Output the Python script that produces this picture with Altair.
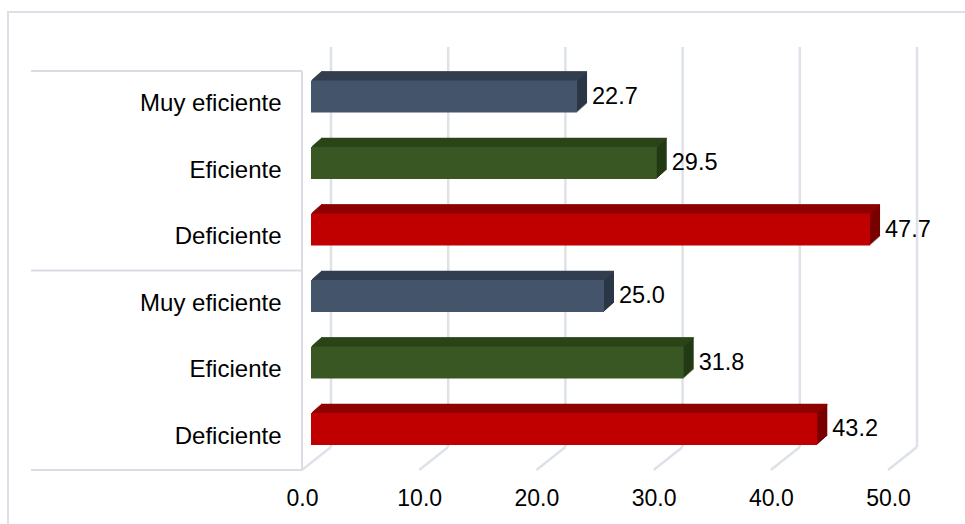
import altair as alt
import pandas as pd

# Values per efficiency level, two groups of respondents
levels = ["Muy eficiente", "Eficiente", "Deficiente"]
group_names = ["Grupo 1", "Grupo 2"]
group_1 = [22.7, 29.5, 47.7]
group_2 = [25.0, 31.8, 43.2]
x_ticks = [0, 10, 20, 30, 40, 50]

# Face colours of the extruded bars (front, top, side)
front_colors = ["#44546A", "#385723", "#C00000"]
top_colors = ["#333F50", "#2B4519", "#8F0000"]
side_colors = ["#2B3646", "#233A15", "#780000"]

rows = []
for g, vals in zip(group_names, [group_1, group_2]):
    for lvl, v in zip(levels, vals):
        rows.append({"fila": f"{g}|{lvl}", "nivel": lvl, "valor": v})
df = pd.DataFrame(rows)
row_order = list(df["fila"])
ticks_df = pd.DataFrame({"t": x_ticks})

FONT = "Liberation Sans"
BAR_H = 32          # front face thickness
FACE_DX = 9         # front face shift from the floor's front edge
FACE_DY = -7.75
DEPTH_X = 10        # extrusion depth
DEPTH_Y = 9
STEPS = 9
PLOT_H = 399

x_scale = alt.Scale(domain=[0, 50], nice=False, zero=True)
y_scale = alt.Scale(domain=row_order, paddingInner=0, paddingOuter=0)

x_axis = alt.Axis(values=x_ticks, format=".1f", labelFont=FONT, labelFontSize=23,
                  labelColor="#000000", labelPadding=17, labelFlush=False,
                  domain=False, ticks=False, grid=False, title=None)
y_axis = alt.Axis(labelExpr="split(datum.label, '|')[1]", labelFont=FONT,
                  labelFontSize=24, labelColor="#000000", labelPadding=21,
                  domain=False, ticks=False, grid=False, title=None)

base = alt.Chart(df)


def color(rng):
    return alt.Color("nivel:N", scale=alt.Scale(domain=levels, range=rng), legend=None)


# Outer chart frame
frame = alt.Chart(ticks_df).mark_rect(fill=None, stroke="#DCE0E6", strokeWidth=2).encode(
    x=alt.value(8 - 302), x2=alt.value(990 - 302),
    y=alt.value(12 - 71), y2=alt.value(560 - 71)
).transform_filter("datum.t == 0")

# Back wall gridlines and floor lines
wall_grid = alt.Chart(ticks_df).mark_rule(color="#DDE2EA", strokeWidth=2.5, xOffset=29).encode(
    x=alt.X("t:Q", scale=x_scale, axis=None),
    y=alt.value(47 - 71), y2=alt.value(447 - 71)
)
floor_grid = alt.Chart(ticks_df).mark_rule(color="#DDE2EA", strokeWidth=2.5, x2Offset=29).encode(
    x=alt.X("t:Q", scale=x_scale, axis=None), x2="t:Q",
    y=alt.value(PLOT_H), y2=alt.value(447 - 71)
)

# Category axis frame: group separators and the left edge
sep_df = pd.DataFrame({"pos": [0, 3, 6]})
separators = alt.Chart(sep_df).mark_rule(color="#D9DDE3", strokeWidth=2).encode(
    x=alt.value(31 - 302), x2=alt.value(0),
    y=alt.Y("pos:Q", scale=alt.Scale(domain=[0, 6], reverse=True), axis=None)
)
left_edge = alt.Chart(ticks_df).mark_rule(color="#D9DDE3", strokeWidth=2).encode(
    x=alt.value(0), y=alt.value(0), y2=alt.value(PLOT_H)
).transform_filter("datum.t == 0")

layers = [frame, wall_grid, floor_grid, separators, left_edge]

# Side faces: the front face swept back through the depth
for k in range(STEPS, 0, -1):
    layers.append(base.mark_bar(height=BAR_H, xOffset=FACE_DX + k * DEPTH_X / STEPS,
                                yOffset=FACE_DY - k * DEPTH_Y / STEPS).encode(
        x=alt.X("valor:Q", scale=x_scale, axis=None),
        y=alt.Y("fila:N", scale=y_scale, sort=row_order, axis=None),
        color=color(side_colors)))

# Top faces: one thin strip per depth step
for k in range(STEPS, 0, -1):
    layers.append(base.mark_bar(height=1.3, xOffset=FACE_DX + k * DEPTH_X / STEPS,
                                yOffset=FACE_DY - BAR_H / 2 - k * DEPTH_Y / STEPS + 0.5).encode(
        x=alt.X("valor:Q", scale=x_scale, axis=None),
        y=alt.Y("fila:N", scale=y_scale, sort=row_order, axis=None),
        color=color(top_colors)))

# Front faces carry the axes
front = base.mark_bar(height=BAR_H, xOffset=FACE_DX, yOffset=FACE_DY).encode(
    x=alt.X("valor:Q", scale=x_scale, axis=x_axis),
    y=alt.Y("fila:N", scale=y_scale, sort=row_order, axis=y_axis),
    color=color(front_colors))
layers.append(front)

labels = base.mark_text(align="left", baseline="middle", dx=24, dy=FACE_DY,
                        font=FONT, fontSize=23.5, color="#000000").encode(
    x=alt.X("valor:Q", scale=x_scale, axis=None),
    y=alt.Y("fila:N", scale=y_scale, sort=row_order, axis=None),
    text=alt.Text("valor:Q", format=".1f"))
layers.append(labels)

chart = alt.layer(*layers).resolve_scale(
    color="independent", y="independent"
).resolve_axis(x="independent", y="independent").properties(
    width=586, height=PLOT_H,
    autosize=alt.AutoSizeParams(type="none"),
    padding={"left": 302, "top": 71, "right": 77, "bottom": 54},
    background="#FFFFFF"
).configure_view(stroke=None)

chart.save("out.html", embed_options={"renderer": "svg", "actions": False})
